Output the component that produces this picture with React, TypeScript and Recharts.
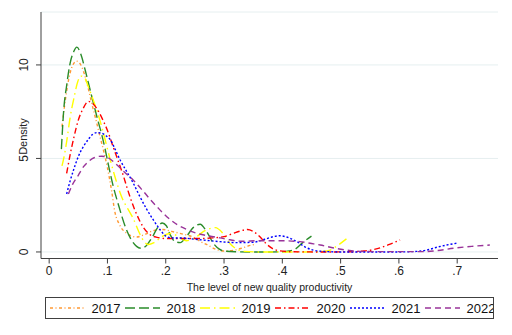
import React from 'react';
import { LineChart, Line, XAxis, YAxis, CartesianGrid } from 'recharts';

// kernel density curves: [x, density]
const d2017: [number, number][] = [
  [0.022, 6.7], [0.03, 8.6], [0.038, 9.8], [0.047, 10.2], [0.056, 9.9], [0.065, 9.0],
  [0.073, 7.95], [0.08, 7.1], [0.087, 6.2], [0.095, 5.2], [0.1, 4.5], [0.107, 3.3],
  [0.113, 2.1], [0.12, 1.5], [0.133, 1.0], [0.15, 0.8], [0.165, 0.95], [0.18, 1.15],
  [0.195, 1.2], [0.21, 1.1], [0.23, 0.95], [0.247, 0.8], [0.26, 0.55], [0.27, 0.4],
  [0.288, 0.12], [0.3, 0.05], [0.315, 0.08], [0.33, 0.2], [0.345, 0.35], [0.355, 0.42],
];
const d2018: [number, number][] = [
  [0.021, 5.5], [0.025, 7.6], [0.03, 8.9], [0.036, 10.1], [0.042, 10.7], [0.0475, 10.95],
  [0.054, 10.6], [0.062, 9.7], [0.07, 8.7], [0.076, 7.95], [0.083, 7.1], [0.09, 6.3],
  [0.096, 5.5], [0.102, 4.6], [0.11, 3.5], [0.12, 2.4], [0.13, 1.4], [0.14, 0.7],
  [0.15, 0.3], [0.158, 0.2], [0.167, 0.35], [0.177, 0.8], [0.186, 1.3], [0.194, 1.55],
  [0.201, 1.4], [0.208, 0.9], [0.216, 0.55], [0.225, 0.5], [0.235, 0.8], [0.247, 1.3],
  [0.259, 1.48], [0.27, 1.1], [0.282, 0.45], [0.292, 0.15], [0.3, 0.05], [0.32, 0.01],
  [0.36, 0.0], [0.4, 0.01], [0.412, 0.05], [0.422, 0.15], [0.435, 0.5], [0.45, 0.85],
];
const d2019: [number, number][] = [
  [0.022, 4.6], [0.025, 5.0], [0.03, 5.9], [0.036, 7.2], [0.043, 8.3], [0.049, 9.1],
  [0.055, 9.4], [0.061, 9.3], [0.067, 8.85], [0.077, 8.0], [0.087, 7.05], [0.096, 6.0],
  [0.105, 4.9], [0.115, 3.8], [0.125, 2.9], [0.135, 2.3], [0.144, 1.8], [0.155, 1.0],
  [0.163, 0.55], [0.17, 0.4], [0.18, 0.5], [0.195, 0.85], [0.21, 1.0], [0.222, 0.8],
  [0.235, 0.6], [0.25, 0.75], [0.265, 1.1], [0.285, 1.3], [0.298, 1.0], [0.31, 0.45],
  [0.322, 0.15], [0.335, 0.03], [0.36, 0.0], [0.4, 0.0], [0.44, 0.0], [0.47, 0.03],
  [0.482, 0.1], [0.495, 0.35], [0.51, 0.7],
];
const d2020: [number, number][] = [
  [0.03, 4.2], [0.036, 5.2], [0.043, 6.2], [0.05, 7.05], [0.058, 7.65], [0.0675, 8.05],
  [0.076, 7.9], [0.085, 7.5], [0.093, 7.0], [0.1, 6.5], [0.11, 5.6], [0.118, 4.9],
  [0.127, 4.1], [0.136, 3.2], [0.145, 2.4], [0.154, 1.75], [0.162, 1.3], [0.172, 0.95],
  [0.185, 0.78], [0.2, 0.72], [0.22, 0.72], [0.24, 0.72], [0.26, 0.72], [0.28, 0.75],
  [0.3, 0.82], [0.315, 0.98], [0.328, 1.12], [0.34, 1.2], [0.35, 1.1], [0.362, 0.8],
  [0.372, 0.45], [0.382, 0.2], [0.395, 0.06], [0.42, 0.01], [0.47, 0.0], [0.52, 0.01],
  [0.54, 0.05], [0.555, 0.12], [0.568, 0.22], [0.585, 0.42], [0.602, 0.64],
];
const d2021: [number, number][] = [
  [0.03, 3.1], [0.036, 3.8], [0.042, 4.4], [0.05, 5.1], [0.059, 5.65], [0.068, 6.05],
  [0.075, 6.3], [0.082, 6.38], [0.09, 6.35], [0.098, 6.2], [0.105, 6.0], [0.113, 5.5],
  [0.122, 4.9], [0.133, 4.3], [0.144, 3.7], [0.155, 3.0], [0.167, 2.3], [0.179, 1.7],
  [0.19, 1.2], [0.2, 0.85], [0.21, 0.75], [0.225, 0.75], [0.25, 0.68], [0.27, 0.62],
  [0.293, 0.55], [0.32, 0.5], [0.35, 0.52], [0.37, 0.68], [0.385, 0.82], [0.395, 0.87],
  [0.405, 0.82], [0.425, 0.55], [0.44, 0.25], [0.453, 0.1], [0.47, 0.03], [0.5, 0.0],
  [0.55, 0.0], [0.6, 0.0], [0.63, 0.03], [0.648, 0.1], [0.665, 0.25], [0.682, 0.37],
  [0.7, 0.47],
];
const d2022: [number, number][] = [
  [0.033, 3.1], [0.04, 3.6], [0.05, 4.1], [0.059, 4.56], [0.068, 4.85], [0.078, 5.05],
  [0.09, 5.12], [0.1, 5.05], [0.113, 4.75], [0.128, 4.3], [0.144, 3.85], [0.16, 3.3],
  [0.175, 2.75], [0.19, 2.25], [0.205, 1.8], [0.22, 1.45], [0.236, 1.2], [0.255, 0.98],
  [0.275, 0.85], [0.293, 0.75], [0.31, 0.65], [0.33, 0.57], [0.36, 0.6], [0.396, 0.6],
  [0.43, 0.55], [0.45, 0.45], [0.465, 0.37], [0.49, 0.2], [0.51, 0.1], [0.533, 0.03],
  [0.56, 0.02], [0.6, 0.02], [0.642, 0.02], [0.665, 0.07], [0.694, 0.2], [0.725, 0.3],
  [0.756, 0.37],
];

const xTicks = [0, 0.1, 0.2, 0.3, 0.4, 0.5, 0.6, 0.7];
const yTicks = [0, 5, 10];

const series = [
  { name: '2017', data: d2017, color: '#ff9933', dash: '3 2.5 1 2.5' },
  { name: '2018', data: d2018, color: '#2a8c2a', dash: '10 4' },
  { name: '2019', data: d2019, color: '#ffff00', dash: '10 4 1.5 4' },
  { name: '2020', data: d2020, color: '#ff0000', dash: '6 3 1.5 3' },
  { name: '2021', data: d2021, color: '#0000ff', dash: '2 2' },
  { name: '2022', data: d2022, color: '#993399', dash: '6 4' },
];

const FONT = '"Liberation Sans", Arial, sans-serif';
const AXIS = '#404040';

const toPoints = (d: [number, number][]) => d.map(([x, y]) => ({ x, y }));
const fmtX = (v: number) => (v === 0 ? '0' : '.' + Math.round(v * 10));

const YTick = (props: any) => {
  const { y, payload } = props;
  return (
    <text x={28} y={y} transform={`rotate(-90 28 ${y})`} textAnchor="middle"
      fontSize={12} fontFamily={FONT} fill="#222">
      {payload.value}
    </text>
  );
};

const Legend = () => (
  <div style={{
    position: 'absolute', left: 45, top: 297, width: 449, height: 22,
    border: `1px solid ${AXIS}`, boxSizing: 'border-box', overflow: 'hidden', background: '#fff',
  }}>
    <svg width={460} height={20}>
      {series.map((s, i) => (
        <g key={s.name} transform={`translate(${4 + i * 75},0)`}>
          <line x1={0} y1={10} x2={35} y2={10} stroke={s.color} strokeWidth={1.4} strokeDasharray={s.dash} />
          <text x={41.5} y={14.5} fontSize={13} fontFamily={FONT} fill="#111">{s.name}</text>
        </g>
      ))}
    </svg>
  </div>
);

export default function App() {
  return (
    <div style={{ position: 'absolute', left: 0, top: 0, width: 512, height: 335, background: '#fff' }}>
      <LineChart width={512} height={300} margin={{ top: 12, right: 14, left: 0, bottom: 0 }}>
        <CartesianGrid vertical={false} stroke="#e6eff0" />
        <XAxis
          type="number"
          dataKey="x"
          domain={[-0.014, 0.77]}
          ticks={xTicks}
          allowDataOverflow
          tickFormatter={fmtX}
          height={41.5}
          tickSize={5}
          tickMargin={3}
          stroke={AXIS}
          tick={{ fontSize: 12, fontFamily: FONT, fill: '#222' }}
          label={{
            value: 'The level of new quality productivity',
            position: 'insideBottom',
            offset: 9,
            style: { fontSize: 10.5, fontFamily: FONT, fill: '#222' },
          }}
        />
        <YAxis
          type="number"
          dataKey="y"
          domain={[-0.35, 12.83]}
          ticks={yTicks}
          allowDataOverflow
          width={41}
          tickSize={5}
          stroke={AXIS}
          tick={<YTick />}
          label={{
            value: 'Density',
            content: () => (
              <text x={27} y={136.5} transform="rotate(-90 27 136.5)" textAnchor="middle"
                fontSize={11} fontFamily={FONT} fill="#222">Density</text>
            ),
          }}
        />
        {series.map((s) => (
          <Line
            key={s.name}
            data={toPoints(s.data)}
            dataKey="y"
            name={s.name}
            type="monotone"
            stroke={s.color}
            strokeWidth={1.4}
            strokeDasharray={s.dash}
            dot={false}
            activeDot={false}
            isAnimationActive={false}
          />
        ))}
      </LineChart>
      <Legend />
    </div>
  );
}
